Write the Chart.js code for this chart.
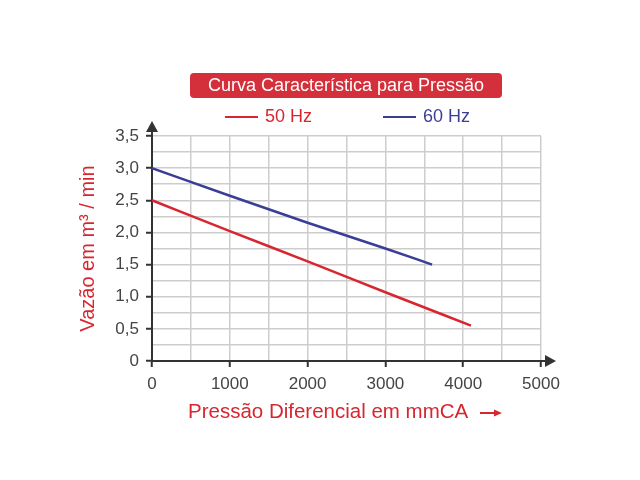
<!DOCTYPE html>
<html lang="pt">

<head>
    <meta charset="UTF-8">
    <title>Curva Característica para Pressão</title>
    <script src="https://cdn.jsdelivr.net/npm/chart.js"></script>
    <style>
        body { margin: 0; background: #fff; }
    </style>
</head>

<body>
    <canvas id="grafico" width="640" height="480"></canvas>
    <script>
        // valores
        const titulo = 'Curva Característica para Pressão';
        const tituloX = 'Pressão Diferencial em mmCA';
        const tituloY = 'Vazão em m³ / min';
        const series = ['50 Hz', '60 Hz'];
        const pressao50 = [0, 1000, 2000, 3000, 4100];
        const vazao50 = [2.5, 2.02, 1.55, 1.07, 0.55];
        const pressao60 = [0, 1000, 2000, 3000, 3600];
        const vazao60 = [3.0, 2.57, 2.15, 1.75, 1.5];

        const vermelho = '#d7262f';
        const azul = '#3b3d96';
        const fonte = "'Liberation Sans', Arial, sans-serif";

        function pares(xs, ys) {
            return xs.map((x, i) => ({ x: x, y: ys[i] }));
        }

        // titulo com caixa, legenda, setas dos eixos e titulos dos eixos
        const extras = {
            id: 'extras',
            afterDraw(chart) {
                const ctx = chart.ctx;
                const area = chart.chartArea;
                ctx.save();

                // caixa do titulo
                ctx.fillStyle = '#d3303b';
                ctx.beginPath();
                ctx.roundRect(190, 73, 312, 25, 4);
                ctx.fill();
                ctx.fillStyle = '#fff';
                ctx.font = '18px ' + fonte;
                ctx.textAlign = 'center';
                ctx.textBaseline = 'middle';
                ctx.fillText(titulo, 346, 86);

                // legenda
                const posLegenda = [225, 383];
                ctx.textAlign = 'left';
                chart.data.datasets.forEach((ds, i) => {
                    const x = posLegenda[i];
                    ctx.strokeStyle = ds.borderColor;
                    ctx.lineWidth = 2;
                    ctx.beginPath();
                    ctx.moveTo(x, 117);
                    ctx.lineTo(x + 33, 117);
                    ctx.stroke();
                    ctx.fillStyle = ds.borderColor;
                    ctx.fillText(ds.label, x + 40, 117);
                });

                // setas dos eixos
                ctx.strokeStyle = '#333';
                ctx.fillStyle = '#333';
                ctx.lineWidth = 2;
                ctx.beginPath();
                ctx.moveTo(area.left, area.top);
                ctx.lineTo(area.left, area.top - 8);
                ctx.moveTo(area.right, area.bottom);
                ctx.lineTo(area.right + 8, area.bottom);
                ctx.stroke();
                ctx.beginPath();
                ctx.moveTo(area.left, area.top - 15);
                ctx.lineTo(area.left - 6, area.top - 4);
                ctx.lineTo(area.left + 6, area.top - 4);
                ctx.closePath();
                ctx.fill();
                ctx.beginPath();
                ctx.moveTo(area.right + 15, area.bottom);
                ctx.lineTo(area.right + 4, area.bottom - 6);
                ctx.lineTo(area.right + 4, area.bottom + 6);
                ctx.closePath();
                ctx.fill();

                // titulo do eixo x com seta
                ctx.fillStyle = vermelho;
                ctx.strokeStyle = vermelho;
                ctx.font = '20.5px ' + fonte;
                ctx.textAlign = 'left';
                ctx.fillText(tituloX, 188, 412);
                ctx.lineWidth = 2;
                ctx.beginPath();
                ctx.moveTo(480, 413);
                ctx.lineTo(495, 413);
                ctx.stroke();
                ctx.beginPath();
                ctx.moveTo(502, 413);
                ctx.lineTo(494, 409.5);
                ctx.lineTo(494, 416.5);
                ctx.closePath();
                ctx.fill();

                // titulo do eixo y
                ctx.font = '20px ' + fonte;
                ctx.translate(88, (area.top + area.bottom) / 2);
                ctx.rotate(-Math.PI / 2);
                ctx.textAlign = 'center';
                ctx.fillText(tituloY, 0, 0);

                ctx.restore();
            }
        };

        const grade = '#cdcdcd';
        const marcaPrincipal = (passo) => (c) =>
            (c.tick && Math.abs(c.tick.value / passo - Math.round(c.tick.value / passo)) < 1e-9) ? '#333' : 'rgba(0,0,0,0)';

        new Chart(document.getElementById('grafico'), {
            type: 'line',
            data: {
                datasets: [{
                    label: series[0],
                    data: pares(pressao50, vazao50),
                    borderColor: vermelho,
                    backgroundColor: vermelho,
                    borderWidth: 2.5,
                    pointRadius: 0,
                    cubicInterpolationMode: 'monotone'
                },
                {
                    label: series[1],
                    data: pares(pressao60, vazao60),
                    borderColor: azul,
                    backgroundColor: azul,
                    borderWidth: 2.5,
                    pointRadius: 0,
                    cubicInterpolationMode: 'monotone'
                }]
            },
            options: {
                responsive: false,
                animation: false,
                devicePixelRatio: 1,
                layout: { padding: { top: 136, right: 99, left: 0, bottom: 0 } },
                plugins: {
                    legend: { display: false },
                    tooltip: { enabled: false }
                },
                scales: {
                    x: {
                        type: 'linear',
                        min: 0,
                        max: 5000,
                        afterFit: (s) => { s.height = 119; },
                        ticks: {
                            stepSize: 500,
                            autoSkip: false,
                            maxRotation: 0,
                            padding: 7,
                            color: '#444',
                            font: { family: fonte, size: 17 },
                            callback: (v) => v % 1000 === 0 ? String(v) : ''
                        },
                        grid: {
                            color: grade,
                            lineWidth: 1.5,
                            tickLength: 6,
                            tickColor: marcaPrincipal(1000),
                            tickWidth: 2
                        },
                        border: { color: '#333', width: 2 }
                    },
                    y: {
                        min: 0,
                        max: 3.5,
                        afterFit: (s) => { s.width = 152; },
                        ticks: {
                            stepSize: 0.25,
                            autoSkip: false,
                            padding: 7,
                            color: '#444',
                            font: { family: fonte, size: 17 },
                            callback: (v) => {
                                if (Math.abs(v * 2 - Math.round(v * 2)) > 1e-9) return '';
                                return v === 0 ? '0' : v.toFixed(1).replace('.', ',');
                            }
                        },
                        grid: {
                            color: grade,
                            lineWidth: 1.5,
                            tickLength: 6,
                            tickColor: marcaPrincipal(0.5),
                            tickWidth: 2
                        },
                        border: { color: '#333', width: 2 }
                    }
                }
            },
            plugins: [extras]
        });
    </script>
</body>

</html>
